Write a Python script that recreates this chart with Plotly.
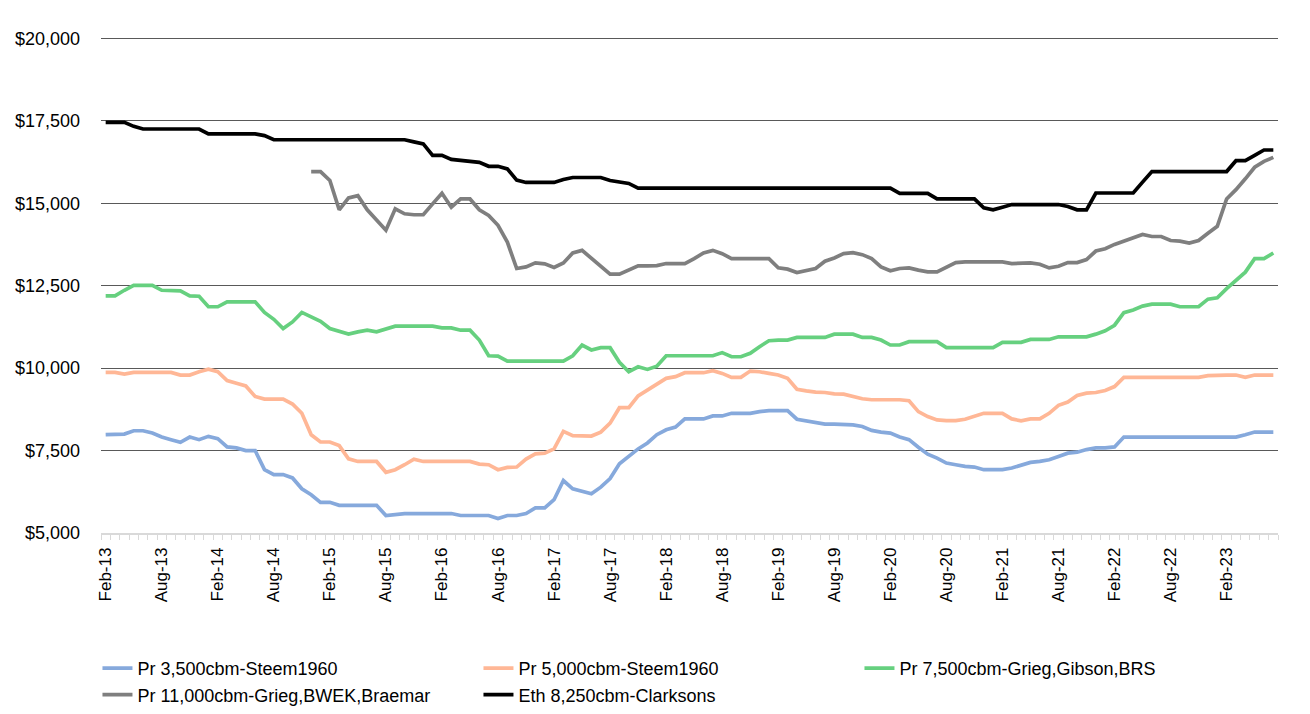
import pandas as pd
import plotly.graph_objects as go

months = pd.date_range("2013-02-01", periods=126, freq="MS").strftime("%b-%y").tolist()

pr_3500 = [7980, 7980, 8000, 8100, 8100, 8030, 7910, 7830, 7750, 7910,
           7830, 7930, 7860, 7610, 7580, 7500, 7500, 6920, 6770, 6770,
           6670, 6340, 6160, 5930, 5930, 5840, 5840, 5840, 5840, 5840,
           5530, 5560, 5590, 5590, 5590, 5590, 5590, 5590, 5530, 5530,
           5530, 5530, 5440, 5530, 5530, 5590, 5760, 5760, 6010, 6590,
           6340, 6260, 6190, 6390, 6650, 7100, 7320, 7550, 7730, 7980,
           8130, 8210, 8460, 8460, 8460, 8550, 8550, 8630, 8630, 8630,
           8680, 8710, 8710, 8710, 8450, 8400, 8360, 8300, 8300, 8300,
           8280, 8230, 8110, 8060, 8030, 7910, 7830, 7600, 7390, 7270,
           7120, 7070, 7020, 7000, 6920, 6920, 6920, 6970, 7050, 7140,
           7170, 7220, 7320, 7420, 7450, 7530, 7580, 7580, 7610, 7910,
           7910, 7910, 7910, 7910, 7910, 7910, 7910, 7910, 7910, 7910,
           7910, 7910, 7980, 8060, 8060, 8060]

pr_5000 = [9870, 9870, 9820, 9870, 9870, 9870, 9870, 9870, 9790, 9790,
           9890, 9970, 9890, 9620, 9540, 9460, 9140, 9060, 9060, 9060,
           8910, 8630, 7980, 7760, 7760, 7650, 7250, 7170, 7170, 7170,
           6840, 6920, 7070, 7240, 7170, 7170, 7170, 7170, 7170, 7170,
           7090, 7070, 6920, 6990, 7000, 7240, 7400, 7420, 7550, 8080,
           7950, 7940, 7940, 8060, 8330, 8800, 8800, 9160, 9340, 9510,
           9690, 9740, 9860, 9860, 9860, 9920, 9840, 9720, 9720, 9910,
           9890, 9840, 9790, 9690, 9360, 9310, 9270, 9260, 9220, 9210,
           9140, 9070, 9040, 9040, 9040, 9040, 9010, 8680, 8530, 8430,
           8410, 8410, 8450, 8530, 8630, 8630, 8630, 8460, 8400, 8460,
           8460, 8630, 8870, 8970, 9170, 9240, 9260, 9320, 9440, 9720,
           9720, 9720, 9720, 9720, 9720, 9720, 9720, 9720, 9770, 9790,
           9790, 9790, 9720, 9790, 9790, 9790]

pr_7500 = [12190, 12190, 12360, 12510, 12510, 12510, 12360, 12340, 12340, 12190,
           12180, 11860, 11860, 12010, 12010, 12010, 12010, 11690, 11480, 11200,
           11400, 11690, 11540, 11420, 11200, 11120, 11030, 11100, 11150, 11100,
           11180, 11270, 11270, 11270, 11270, 11270, 11220, 11220, 11150, 11150,
           10850, 10375, 10365, 10210, 10210, 10210, 10210, 10210, 10210, 10210,
           10375, 10700, 10550, 10620, 10620, 10175, 9890, 10040, 9960, 10060,
           10375, 10375, 10375, 10375, 10375, 10375, 10470, 10345, 10345, 10450,
           10650, 10830, 10850, 10850, 10930, 10930, 10930, 10930, 11030, 11030,
           11030, 10930, 10930, 10850, 10700, 10700, 10800, 10800, 10800, 10800,
           10620, 10620, 10620, 10620, 10620, 10620, 10780, 10780, 10780, 10870,
           10870, 10870, 10950, 10950, 10950, 10950, 11030, 11130, 11300, 11680,
           11760, 11880, 11940, 11940, 11940, 11860, 11860, 11860, 12090, 12130,
           12410, 12660, 12910, 13320, 13320, 13490]

pr_11000 = [None] * 22 + [
           15960, 15960, 15690, 14800, 15160, 15230, 14800, 14500,
           14180, 14830, 14680, 14650, 14650, 14980, 15300, 14880, 15130, 15130,
           14800, 14630, 14330, 13820, 13020, 13070, 13190, 13160, 13050, 13190,
           13490, 13570, 13320, 13070, 12850, 12850, 12970, 13100, 13100, 13110,
           13170, 13170, 13170, 13320, 13490, 13570, 13470, 13320, 13320, 13320,
           13320, 13320, 13040, 13000, 12900, 12950, 13020, 13240, 13340, 13470,
           13500, 13440, 13320, 13070, 12950, 13020, 13040, 12970, 12920, 12920,
           13070, 13200, 13220, 13220, 13220, 13220, 13220, 13170, 13180, 13190,
           13150, 13040, 13090, 13200, 13200, 13290, 13550, 13620, 13750, 13850,
           13970, 14050, 13990, 13990, 13870, 13850, 13790, 13870, 14090, 14300,
           15130, 15410, 15740, 16090, 16270, 16390]

eth_8250 = [17450, 17450, 17450, 17330, 17250, 17250, 17250, 17250, 17250, 17250,
            17250, 17100, 17100, 17100, 17100, 17100, 17100, 17050, 16925, 16925,
            16925, 16925, 16925, 16925, 16925, 16925, 16925, 16925, 16925, 16925,
            16925, 16925, 16925, 16860, 16800, 16450, 16450, 16330, 16300, 16270,
            16240, 16120, 16120, 16040, 15700, 15630, 15630, 15630, 15630, 15720,
            15780, 15780, 15780, 15780, 15690, 15640, 15600, 15460, 15455, 15455,
            15455, 15455, 15455, 15455, 15455, 15455, 15455, 15455, 15455, 15455,
            15455, 15455, 15455, 15455, 15455, 15455, 15455, 15455, 15455, 15455,
            15455, 15455, 15455, 15455, 15455, 15300, 15300, 15300, 15300, 15130,
            15130, 15130, 15130, 15130, 14860, 14800, 14880, 14960, 14960, 14960,
            14960, 14960, 14960, 14900, 14800, 14800, 15310, 15310, 15310, 15310,
            15310, 15640, 15960, 15960, 15960, 15960, 15960, 15960, 15960, 15960,
            15960, 16290, 16290, 16450, 16614, 16614]

series = [
    ("Pr 3,500cbm-Steem1960", pr_3500, "#86A9DC"),
    ("Pr 5,000cbm-Steem1960", pr_5000, "#FFB796"),
    ("Pr 7,500cbm-Grieg,Gibson,BRS", pr_7500, "#66D07F"),
    ("Pr 11,000cbm-Grieg,BWEK,Braemar", pr_11000, "#7F7F7F"),
    ("Eth 8,250cbm-Clarksons", eth_8250, "#000000"),
]

y_ticks = [5000, 7500, 10000, 12500, 15000, 17500, 20000]
y_labels = ["$" + f"{v:,}" for v in y_ticks]
label_text = [m if i % 6 == 0 else "" for i, m in enumerate(months)]

fig = go.Figure()
for name, vals, color in series:
    fig.add_trace(go.Scatter(x=months, y=vals, name=name, mode="lines",
                             line=dict(color=color, width=3.7),
                             connectgaps=False))

# the page body adds an 8px offset, so the figure is made 8px smaller
W, H = 1302, 706
PL, PR, PT, PB = 93, 32, 29, 181
pw, ph = W - PL - PR, H - PT - PB

fig.update_layout(
    width=W, height=H,
    margin=dict(l=PL, r=PR, t=PT, b=PB, autoexpand=False),
    paper_bgcolor="white", plot_bgcolor="white",
    font=dict(family="Liberation Sans, Arial, sans-serif", size=17, color="#000000"),
    showlegend=True,
    legend=dict(orientation="h", x=-0.003, xanchor="left", y=-(650 - 533) / ph, yanchor="top",
                entrywidth=336, entrywidthmode="pixels",
                bgcolor="rgba(0,0,0,0)",
                font=dict(family="Liberation Sans Narrow, Liberation Sans, Arial", size=18),
                tracegroupgap=0),
)
fig.update_xaxes(
    type="category",
    tickmode="array", tickvals=months, ticktext=label_text,
    tickson="boundaries", ticks="outside", ticklen=5, tickcolor="#D9D9D9",
    showline=True, linecolor="#D9D9D9", linewidth=1.5,
    showgrid=False, tickangle=-90, ticklabelstandoff=6,
    tickfont=dict(family="Liberation Sans, Arial", size=17, color="#000000"),
    range=[-0.5, 125.5],
)
fig.update_yaxes(
    range=[5000, 20040], tickmode="array", tickvals=y_ticks, ticktext=y_labels,
    showgrid=True, gridcolor="#595959", gridwidth=1.3,
    zeroline=False, showline=False, ticks="",
    tickfont=dict(family="Liberation Sans, Arial", size=18, color="#000000"),
    ticklabelstandoff=20,
)
# thin light-grey chart border on the left edge
fig.add_shape(type="line", xref="paper", yref="paper",
              x0=(-5 - PL) / pw, x1=(-5 - PL) / pw, y0=-(PB) / ph, y1=(ph + PT) / ph,
              line=dict(color="#D9D9D9", width=1.5))

fig.write_html("out.html")
